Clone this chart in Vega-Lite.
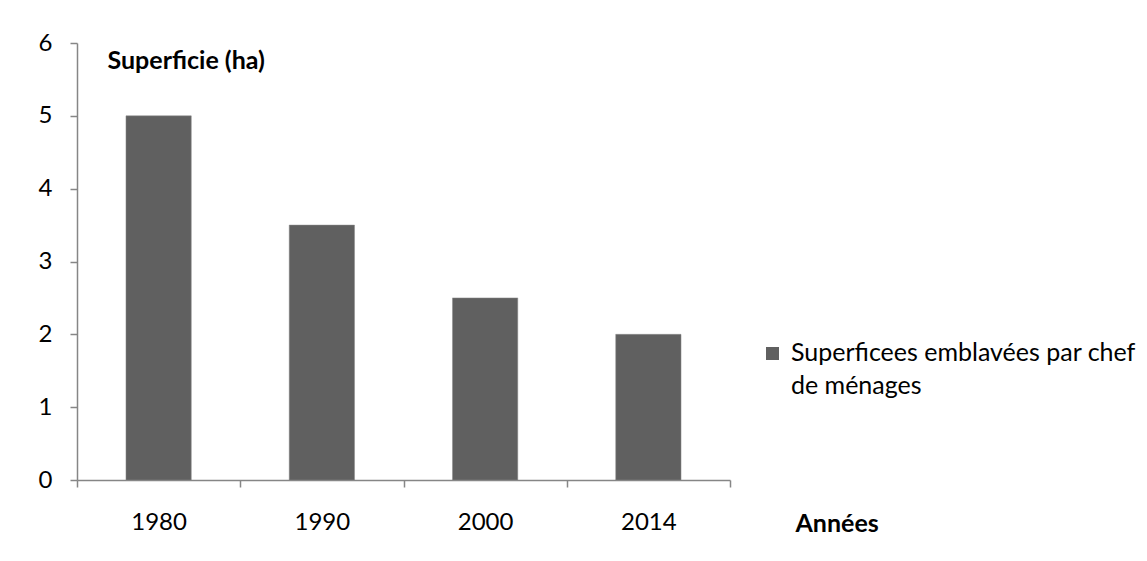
{
  "$schema": "https://vega.github.io/schema/vega-lite/v6.json",
  "width": 653,
  "height": 437,
  "autosize": "none",
  "padding": {"left": 77, "top": 43, "right": 417, "bottom": 81},
  "background": "white",
  "config": {
    "font": "Lato",
    "view": {"stroke": null},
    "style": {"guide-label": {"lineHeight": 33, "dy": 7}},
    "axis": {"labelColor": "#000000", "titleColor": "#000000", "domainColor": "#868686", "tickColor": "#868686", "domainWidth": 1.5, "tickWidth": 1.5, "grid": false}
  },
  "data": {
    "values": [
      {"annee": "1980", "superficie": 5, "serie": "Superficees emblavées par chef de ménages"},
      {"annee": "1990", "superficie": 3.5, "serie": "Superficees emblavées par chef de ménages"},
      {"annee": "2000", "superficie": 2.5, "serie": "Superficees emblavées par chef de ménages"},
      {"annee": "2014", "superficie": 2, "serie": "Superficees emblavées par chef de ménages"}
    ]
  },
  "mark": {"type": "bar", "stroke": "#8a8a8a", "strokeWidth": 0.5, "width": {"band": 0.4}},
  "encoding": {
    "x": {
      "field": "annee",
      "type": "nominal",
      "scale": {"paddingInner": 0, "paddingOuter": 0},
      "axis": {
        "title": "Années",
        "titleFontSize": 25,
        "titleFontWeight": "bold",
        "titleAngle": 0,
        "titleAlign": "left",
        "titleBaseline": "middle",
        "titleX": 718,
        "titleY": 43,
        "labelAngle": 0,
        "labelFontSize": 24,
        "labelPadding": 16,
        "tickSize": 7,
        "tickBand": "extent"
      }
    },
    "y": {
      "field": "superficie",
      "type": "quantitative",
      "scale": {"domain": [0, 6], "nice": false},
      "axis": {
        "values": [0, 1, 2, 3, 4, 5, 6],
        "title": "Superficie (ha)",
        "titleFontSize": 25,
        "titleFontWeight": "bold",
        "titleAngle": 0,
        "titleAlign": "left",
        "titleBaseline": "middle",
        "titleX": 30,
        "titleY": 17,
        "labelFontSize": 24,
        "labelPadding": 18,
        "labelOffset": -7,
        "tickSize": 7
      }
    },
    "color": {
      "field": "serie",
      "type": "nominal",
      "scale": {"range": ["#606060"]},
      "legend": {
        "title": null,
        "orient": "none",
        "legendX": 683,
        "legendY": 298,
        "symbolType": "square",
        "symbolSize": 169,
        "symbolStrokeWidth": 0,
        "labelFontSize": 25,
        "labelColor": "#000000",
        "labelBaseline": "alphabetic",
        "labelOffset": 6,
        "labelLimit": 500,
        "labelExpr": "['Superficees emblavées par chef', 'de ménages']"
      }
    }
  }
}
